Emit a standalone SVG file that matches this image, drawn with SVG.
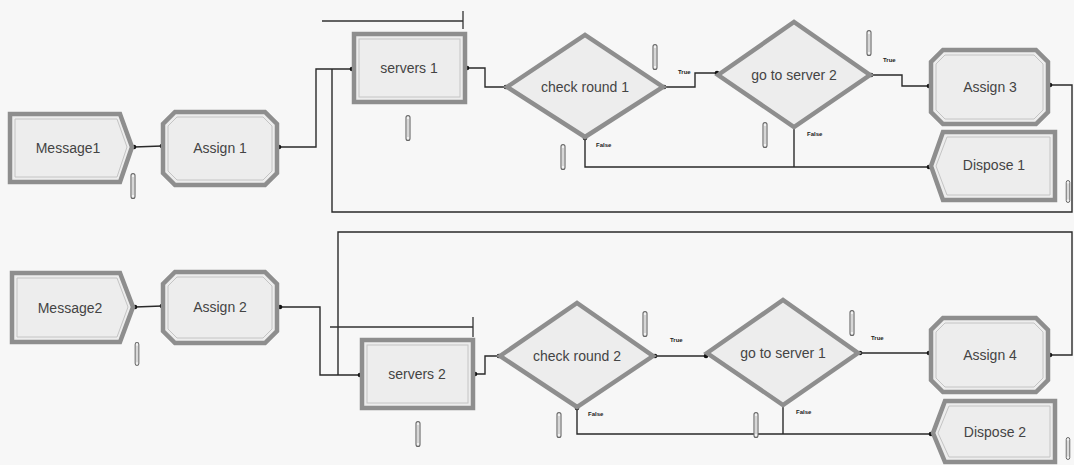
<svg xmlns="http://www.w3.org/2000/svg" width="1074" height="465" viewBox="0 0 1074 465">
<defs>
<style>
.shape{fill:#ededed;stroke:#8e8e8e;stroke-width:4.5;stroke-linejoin:miter}
.inner{fill:none;stroke:#c4c4c4;stroke-width:1}
.lbl{font-family:"Liberation Sans",Arial,sans-serif;font-size:14px;fill:#444;text-anchor:middle;dominant-baseline:central}
.tf{font-family:"Liberation Sans",Arial,sans-serif;font-size:6px;font-weight:bold;fill:#222}
.con{fill:none;stroke:#2a2a2a;stroke-width:1.4;marker-start:url(#dot);marker-end:url(#dot)}
.loop{fill:none;stroke:#2a2a2a;stroke-width:1.4;marker-start:url(#dot)}
.seg{fill:none;stroke:#2a2a2a;stroke-width:1.4}
.q{fill:none;stroke:#333;stroke-width:1.3}
.cap{fill:#f2f2f2;stroke:#666;stroke-width:1.1}
</style>
<marker id="dot" markerWidth="6" markerHeight="6" refX="3" refY="3" markerUnits="userSpaceOnUse"><circle cx="3" cy="3" r="2.3" fill="#111"/></marker>
<symbol id="capsule" viewBox="0 0 6 26" overflow="visible"><rect class="cap" x="1" y="0.6" width="4" height="24.8" rx="2"/><line x1="3" y1="4" x2="3" y2="22" stroke="#bbb" stroke-width="1"/></symbol>
</defs>
<rect width="1074" height="465" fill="#f7f7f7"/>

<g id="connectors">
<path class="con" d="M134,147 L162,146"/>
<path class="con" d="M279,147 H316 V69 H352"/>
<path class="con" d="M467,68 H485 V87 H506"/>
<path class="con" d="M664,87 H695 V73 H717"/>
<path class="con" d="M871,75 H902 V86 H929"/>
<path class="con" d="M585,138 V167 H929"/>
<path class="seg" d="M794,128 V167"/>
<path class="loop" d="M1050,85 H1072 V212 H332 V69"/>
<path class="con" d="M135,307 L162,306"/>
<path class="con" d="M280,307 H320 V375 H360"/>
<path class="con" d="M475,374 H485 V356 H499"/>
<path class="con" d="M655,356 H706"/>
<path class="con" d="M860,353 H929"/>
<path class="con" d="M577,408 V434 H931"/>
<path class="seg" d="M783,406 V434"/>
<path class="loop" d="M1050,355 H1072 V232 H338 V375"/>
<path class="q" d="M322,21 H463 M463,11 V29"/>
<path class="q" d="M330,327 H473 M473,317 V337"/>
<text class="tf" x="678" y="74">True</text>
<text class="tf" x="596" y="147">False</text>
<text class="tf" x="883" y="62">True</text>
<text class="tf" x="807" y="136">False</text>
<text class="tf" x="670" y="342">True</text>
<text class="tf" x="588" y="416">False</text>
<text class="tf" x="871" y="340">True</text>
<text class="tf" x="796" y="414">False</text>
</g>

<g id="message1"><polygon class="shape" points="10,114 120,114 132,147 120,182 10,182"/><polygon class="inner" points="15,119 117,119 127,147 117,177 15,177"/><text class="lbl" x="68" y="148">Message1</text></g>
<g id="assign1"><polygon class="shape" points="175,112 265,112 277,124 277,173 265,185 175,185 163,173 163,124"/><polygon class="inner" points="177,117 263,117 272,126 272,171 263,180 177,180 168,171 168,126"/><text class="lbl" x="220" y="148">Assign 1</text></g>
<g id="servers1"><rect class="shape" x="354" y="34" width="111" height="68"/><rect class="inner" x="359" y="39" width="101" height="58"/><text class="lbl" x="409" y="68">servers 1</text></g>
<g id="checkround1"><polygon class="shape" points="507,87 585,35 663,87 585,137"/><text class="lbl" x="585" y="87">check round 1</text></g>
<g id="gotoserver2"><polygon class="shape" points="718,75 794,22 870,75 794,127"/><text class="lbl" x="794" y="75">go to server 2</text></g>
<g id="assign3"><polygon class="shape" points="943,50 1036,50 1048,62 1048,112 1036,124 943,124 931,112 931,62"/><polygon class="inner" points="945,55 1034,55 1043,64 1043,110 1034,119 945,119 936,110 936,64"/><text class="lbl" x="990" y="87">Assign 3</text></g>
<g id="dispose1"><polygon class="shape" points="943,132 1055,132 1055,200 943,200 931,166"/><polygon class="inner" points="947,137 1050,137 1050,195 947,195 936,166"/><text class="lbl" x="994" y="165">Dispose 1</text></g>

<g id="message2"><polygon class="shape" points="12,273 120,273 133,307 120,342 12,342"/><polygon class="inner" points="17,278 117,278 128,307 117,337 17,337"/><text class="lbl" x="70" y="308">Message2</text></g>
<g id="assign2"><polygon class="shape" points="175,272 265,272 277,284 277,331 265,343 175,343 163,331 163,284"/><polygon class="inner" points="177,277 263,277 272,286 272,329 263,338 177,338 168,329 168,286"/><text class="lbl" x="220" y="307">Assign 2</text></g>
<g id="servers2"><rect class="shape" x="362" y="340" width="111" height="68"/><rect class="inner" x="367" y="345" width="101" height="58"/><text class="lbl" x="417" y="374">servers 2</text></g>
<g id="checkround2"><polygon class="shape" points="500,356 577,303 653,356 577,407"/><text class="lbl" x="577" y="356">check round 2</text></g>
<g id="gotoserver1"><polygon class="shape" points="707,353 783,300 858,353 783,405"/><text class="lbl" x="783" y="353">go to server 1</text></g>
<g id="assign4"><polygon class="shape" points="943,318 1036,318 1048,330 1048,380 1036,392 943,392 931,380 931,330"/><polygon class="inner" points="945,323 1034,323 1043,332 1043,378 1034,387 945,387 936,378 936,332"/><text class="lbl" x="990" y="355">Assign 4</text></g>
<g id="dispose2"><polygon class="shape" points="945,401 1055,401 1055,462 945,462 933,433"/><polygon class="inner" points="949,406 1050,406 1050,457 949,457 938,433"/><text class="lbl" x="995" y="432">Dispose 2</text></g>

<g id="markers">
<use href="#capsule" x="130" y="173" width="6" height="26"/>
<use href="#capsule" x="405" y="115" width="6" height="26"/>
<use href="#capsule" x="652" y="44" width="6" height="26"/>
<use href="#capsule" x="560" y="144" width="6" height="26"/>
<use href="#capsule" x="866" y="30" width="6" height="26"/>
<use href="#capsule" x="762" y="122" width="6" height="26"/>
<use href="#capsule" x="1065" y="180" width="6" height="23"/>
<use href="#capsule" x="134" y="342" width="6" height="24"/>
<use href="#capsule" x="415" y="421" width="6" height="26"/>
<use href="#capsule" x="642" y="311" width="6" height="26"/>
<use href="#capsule" x="556" y="412" width="6" height="26"/>
<use href="#capsule" x="849" y="310" width="6" height="26"/>
<use href="#capsule" x="753" y="412" width="6" height="26"/>
<use href="#capsule" x="1065" y="437" width="6" height="23"/>
</g>
</svg>
